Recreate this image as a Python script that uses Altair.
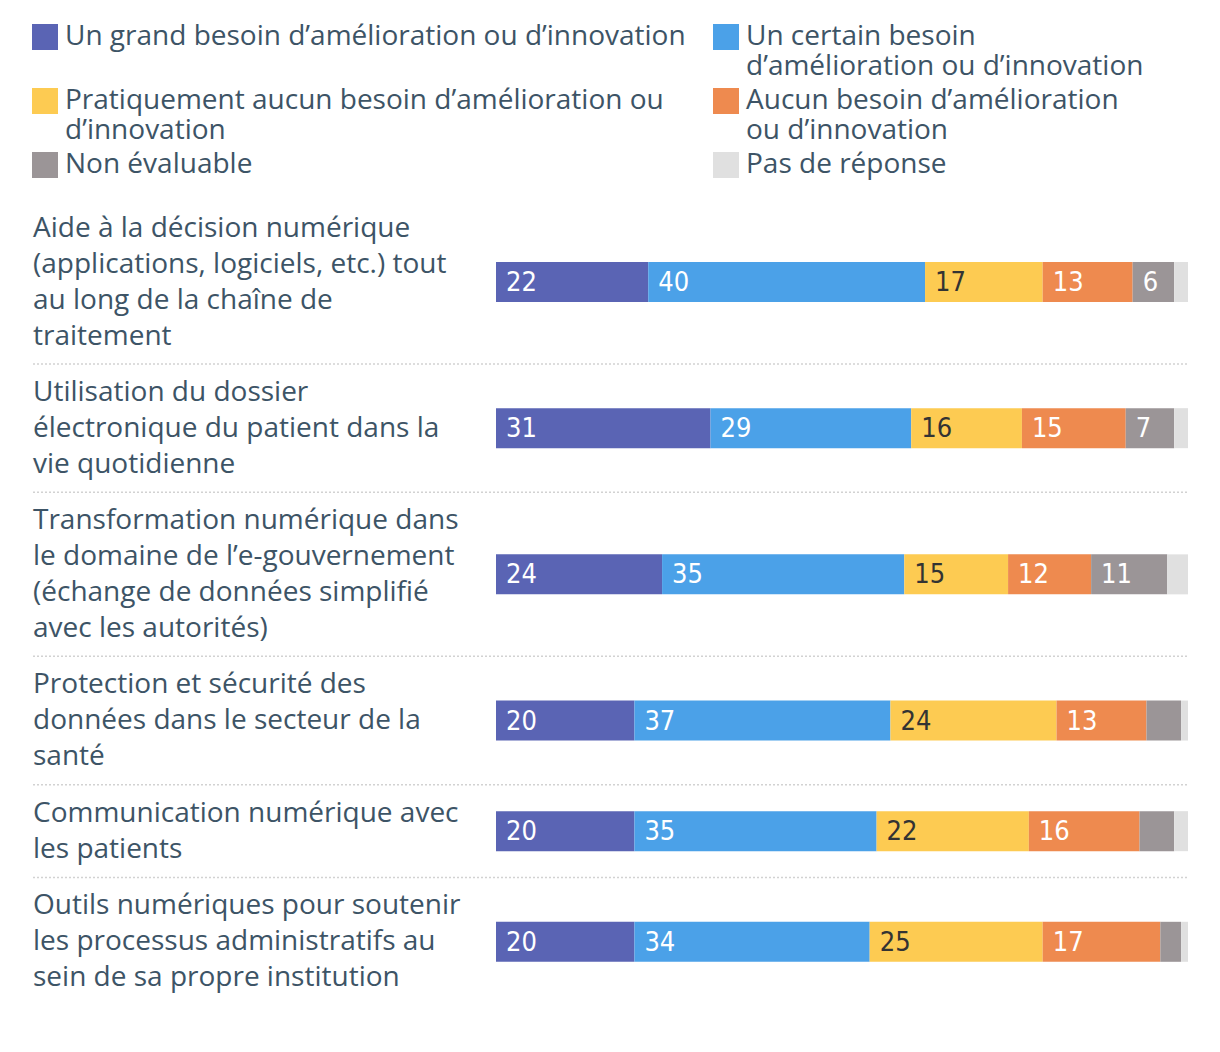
import altair as alt
import pandas as pd

# ---------------- data ----------------
categories = [
    "Aide à la décision numérique\n(applications, logiciels, etc.) tout\nau long de la chaîne de\ntraitement",
    "Utilisation du dossier\nélectronique du patient dans la\nvie quotidienne",
    "Transformation numérique dans\nle domaine de l’e-gouvernement\n(échange de données simplifié\navec les autorités)",
    "Protection et sécurité des\ndonnées dans le secteur de la\nsanté",
    "Communication numérique avec\nles patients",
    "Outils numériques pour soutenir\nles processus administratifs au\nsein de sa propre institution",
]
series = [
    "Un grand besoin d’amélioration ou d’innovation",
    "Un certain besoin d’amélioration ou d’innovation",
    "Pratiquement aucun besoin d’amélioration ou d’innovation",
    "Aucun besoin d’amélioration ou d’innovation",
    "Non évaluable",
    "Pas de réponse",
]
grand = [22, 31, 24, 20, 20, 20]
certain = [40, 29, 35, 37, 35, 34]
pratiquement = [17, 16, 15, 24, 22, 25]
aucun = [13, 15, 12, 13, 16, 17]
non_evaluable = [6, 7, 11, 5, 5, 3]
pas_de_reponse = [2, 2, 3, 1, 2, 1]
colors = ["#5a64b4", "#4ba1e8", "#fdcb52", "#ee8a4f", "#9b9597", "#e0e0e0"]

legend_lines = {
    series[0]: ["Un grand besoin d’amélioration ou d’innovation", ""],
    series[1]: ["Un certain besoin", "d’amélioration ou d’innovation"],
    series[2]: ["Pratiquement aucun besoin d’amélioration ou", "d’innovation"],
    series[3]: ["Aucun besoin d’amélioration", "ou d’innovation"],
}

# ---------------- layout helpers ----------------
TEXT_FONT = "Open Sans"
NUM_FONT = "Liberation Sans Narrow, DejaVu Sans Condensed, Roboto Condensed, Roboto, sans-serif"
TEXT_COLOR = "#3d5466"
FONT_SIZE = 28
LINE = 36
ROW_PAD = 22

values = [grand, certain, pratiquement, aucun, non_evaluable, pas_de_reponse]

row_recs, bar_recs, sep_recs = [], [], []
top = 0
for i, cat in enumerate(categories):
    n = cat.count("\n") + 1
    h = LINE * n + ROW_PAD
    center = top + h / 2
    if i > 0:
        sep_recs.append({"pos": top})
    row_recs.append({"label": cat, "text_top": top + ROW_PAD / 2})
    start = 0
    for k, s in enumerate(series):
        v = values[k][i]
        bar_recs.append({"cat": cat, "series": s, "k": k, "value": v,
                         "start": start, "end": start + v, "center": center})
        start += v
    top += h
total = top

bar_df = pd.DataFrame(bar_recs)
row_df = pd.DataFrame(row_recs)
sep_df = pd.DataFrame(sep_recs)

def q(s):
    return "'" + s.replace("'", "\\'") + "'"

expr = "datum.label"
for name, lines in legend_lines.items():
    arr = "[" + ", ".join(q(l) for l in lines) + "]"
    expr = f"datum.label == {q(name)} ? {arr} : ({expr})"

yscale = alt.Scale(domain=[0, total], reverse=True, nice=False, zero=False)
xscale = alt.Scale(domain=[0, 100], nice=False)


def build(extra_legend, legend_y):
    seps = alt.Chart(sep_df).mark_rule(color="#d2d2d2", strokeDash=[2, 2], strokeWidth=1.5).encode(
        y=alt.Y("pos:Q", scale=yscale, axis=None),
        x=alt.value(-463),
        x2=alt.value(692),
    )

    bars = alt.Chart(bar_df).mark_bar(orient="horizontal", size=40).encode(
        x=alt.X("start:Q", scale=xscale, axis=None),
        x2="end:Q",
        y=alt.Y("center:Q", scale=yscale, axis=None),
        color=alt.Color(
            "series:N",
            scale=alt.Scale(domain=series, range=colors),
            legend=alt.Legend(
                title=None, orient="none", legendX=-465, legendY=legend_y,
                direction="horizontal", columns=2, columnPadding=26, rowPadding=6,
                symbolType="square", symbolSize=676, symbolStrokeWidth=0,
                symbolOpacity=1,
                labelFont=TEXT_FONT, labelFontSize=FONT_SIZE, labelColor=TEXT_COLOR,
                labelLimit=1000, labelOffset=6, labelExpr=expr,
                **extra_legend,
            ),
        ),
    )

    bar_text = alt.Chart(bar_df).transform_filter("datum.value >= 6").mark_text(
        align="left", baseline="middle", dx=10, dy=1, font=NUM_FONT, fontSize=27
    ).encode(
        x=alt.X("start:Q", scale=xscale, axis=None),
        y=alt.Y("center:Q", scale=yscale, axis=None),
        text="value:Q",
        color=alt.condition("datum.k == 2", alt.value("#333333"), alt.value("#ffffff")),
    )

    row_text = alt.Chart(row_df).mark_text(
        align="left", baseline="line-top", lineBreak="\n", lineHeight=LINE,
        font=TEXT_FONT, fontSize=FONT_SIZE, color=TEXT_COLOR,
    ).encode(
        x=alt.value(-463),
        y=alt.Y("text_top:Q", scale=yscale, axis=None),
        text="label:N",
    )

    return alt.layer(seps, bars, bar_text, row_text).properties(
        width=692, height=total,
        autosize=alt.AutoSizeParams(type="none"),
        padding={"left": 488, "top": 187, "right": 24, "bottom": 30},
    ).configure_view(stroke=None)


try:
    chart = build({"encode": {"labels": {"update": {"lineHeight": {"value": 34}}}}}, -180)
    chart.to_dict()
except Exception:
    chart = build({}, -172)

chart.save("out.html", embed_options={"renderer": "svg", "actions": False})
